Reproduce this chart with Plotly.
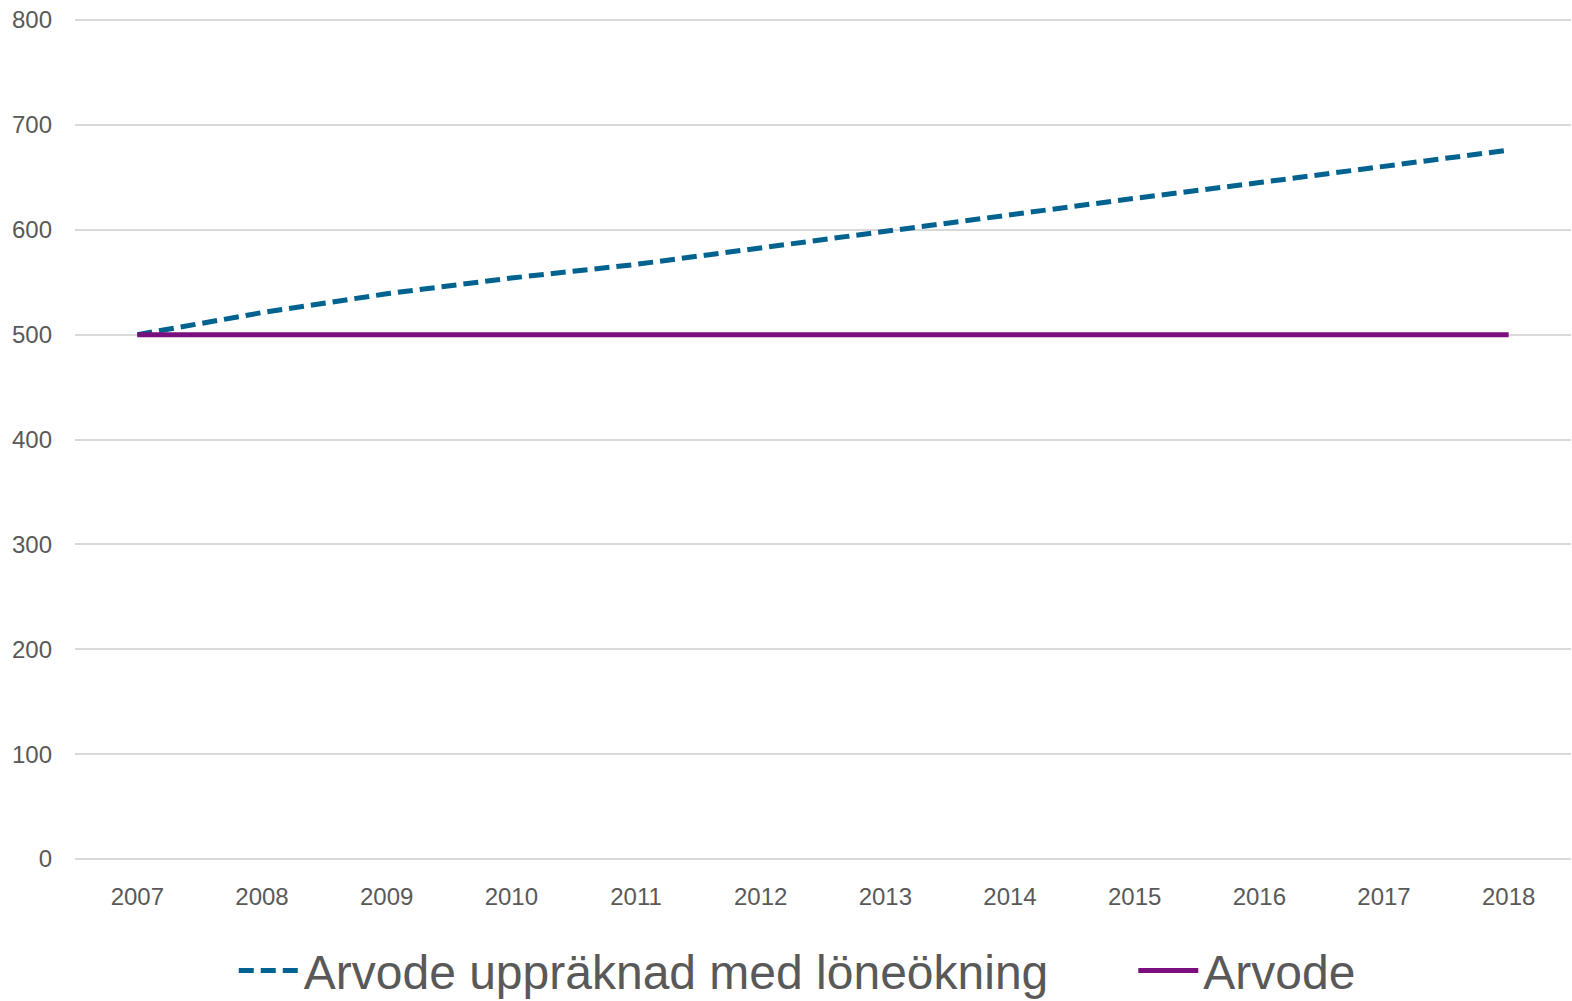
import plotly.graph_objects as go

years = ["2007", "2008", "2009", "2010", "2011", "2012", "2013", "2014", "2015", "2016", "2017", "2018"]
upprakning = [500, 521, 539, 554, 567, 583, 598, 615, 630, 645, 660, 676]
arvode = [500, 500, 500, 500, 500, 500, 500, 500, 500, 500, 500, 500]
y_ticks = [0, 100, 200, 300, 400, 500, 600, 700, 800]

fig = go.Figure()
fig.add_trace(go.Scatter(
    x=years, y=upprakning, mode="lines",
    name="Arvode uppräknad med löneökning" + "\u00a0" * 6,
    line=dict(color="#00628f", width=5, dash="15px,7px"),
))
fig.add_trace(go.Scatter(
    x=years, y=arvode, mode="lines", name="Arvode",
    line=dict(color="#7a0f7d", width=5),
))

fig.update_layout(
    width=1572, height=1001,
    margin=dict(l=75, r=1, t=19, b=142, autoexpand=False),
    paper_bgcolor="white", plot_bgcolor="white",
    font=dict(family="Liberation Sans, Arial, sans-serif", color="#595959"),
    showlegend=True,
    legend=dict(
        orientation="h", xref="container", x=0.1487, xanchor="left",
        y=-0.133, yanchor="middle",
        font=dict(size=48, color="#595959"), itemwidth=60, tracegroupgap=0,
    ),
    xaxis=dict(
        type="category", range=[-0.5, 11.5], showgrid=False, showline=False,
        ticks="", tickfont=dict(size=24, color="#595959"), ticklabelstandoff=21,
        automargin=False,
    ),
    yaxis=dict(
        range=[0, 801], tickvals=y_ticks, showgrid=True, gridcolor="#d9d9d9",
        gridwidth=1.5, zeroline=True, zerolinecolor="#d9d9d9", zerolinewidth=1.5,
        ticks="", tickfont=dict(size=24, color="#595959"), ticklabelstandoff=22,
        showline=False, automargin=False,
    ),
)

fig.write_html(
    "out.html",
    config={"displayModeBar": False},
    post_script="document.body.style.margin='0';document.body.style.padding='0';",
)
